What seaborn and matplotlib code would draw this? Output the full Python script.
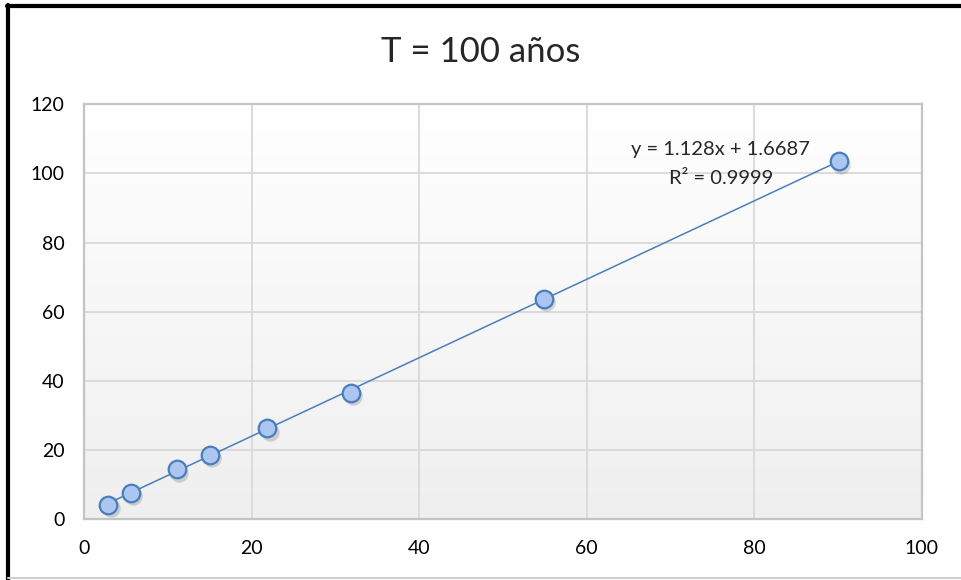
import numpy as np
import pandas as pd
import matplotlib.pyplot as plt
import seaborn as sns
from matplotlib.lines import Line2D
from matplotlib.colors import LinearSegmentedColormap

# Datos
x_vals = [2.87, 5.54, 11.03, 15.01, 21.86, 31.82, 54.9, 90.1]
y_vals = [4.06, 7.63, 14.4, 18.56, 26.2, 36.6, 63.8, 103.5]
eq_text = "y = 1.128x + 1.6687\nR² = 0.9999"
title = "T = 100 años"
x_ticks = [0, 20, 40, 60, 80, 100]
y_ticks = [0, 20, 40, 60, 80, 100, 120]

df = pd.DataFrame({"x": x_vals, "y": y_vals})

sns.set_style("white")
plt.rcParams['font.family'] = ['Lato', 'DejaVu Sans']

fig = plt.figure(figsize=(9.61, 5.80), dpi=100)
ax = fig.add_axes([0.0877, 0.1052, 0.8713, 0.715])

# fondo degradado del area de trazado (blanco arriba, gris abajo)
grad = np.linspace(0.0, 1.0, 256).reshape(-1, 1)
cmap = LinearSegmentedColormap.from_list("g", ["#ffffff", "#efefef"])
ax.imshow(grad, extent=[0, 1, 0, 1], transform=ax.transAxes, aspect='auto',
          origin='upper', cmap=cmap, zorder=0)

# sombra de los marcadores
ax.scatter(df["x"] + 0.3, df["y"] - 1.0, s=175, color="#000000", alpha=0.15,
           linewidths=0, zorder=2)

sns.regplot(data=df, x="x", y="y", ci=None, truncate=True, ax=ax,
            scatter_kws=dict(s=160, color="#abc6f0", edgecolors="#4a7ebb",
                             linewidths=1.6, alpha=1, zorder=3),
            line_kws=dict(color="#4a7ebb", linewidth=1.1, zorder=2.5))

ax.set_xlim(0, 100)
ax.set_ylim(0, 120)
ax.set_xticks(x_ticks)
ax.set_yticks(y_ticks)
ax.set_xlabel("")
ax.set_ylabel("")
ax.grid(True, color="#d9d9d9", linewidth=1.3, zorder=1)
ax.set_axisbelow(True)
for sp in ax.spines.values():
    sp.set_color("#c4c4c4")
    sp.set_linewidth(1.6)
ax.tick_params(axis="both", length=0, labelsize=14, colors="black")
ax.tick_params(axis="x", pad=15)
ax.tick_params(axis="y", pad=14)

ax.text(76.0, 102.8, eq_text, ha="center", va="center", fontsize=14.5,
        linespacing=1.85)

fig.text(0.5, 0.91, title, ha="center", va="center", fontsize=25)

# borde del grafico
fig.add_artist(Line2D([0.0075, 1.0], [0.9905, 0.9905], color="black",
                      linewidth=3, transform=fig.transFigure))
fig.add_artist(Line2D([0.0085, 0.0085], [0.0, 0.991], color="black",
                      linewidth=3, transform=fig.transFigure))
fig.add_artist(Line2D([0.008, 1.0], [0.004, 0.004], color="#d0d0d0",
                      linewidth=1.5, transform=fig.transFigure))

fig.savefig("out.png", dpi=100)
